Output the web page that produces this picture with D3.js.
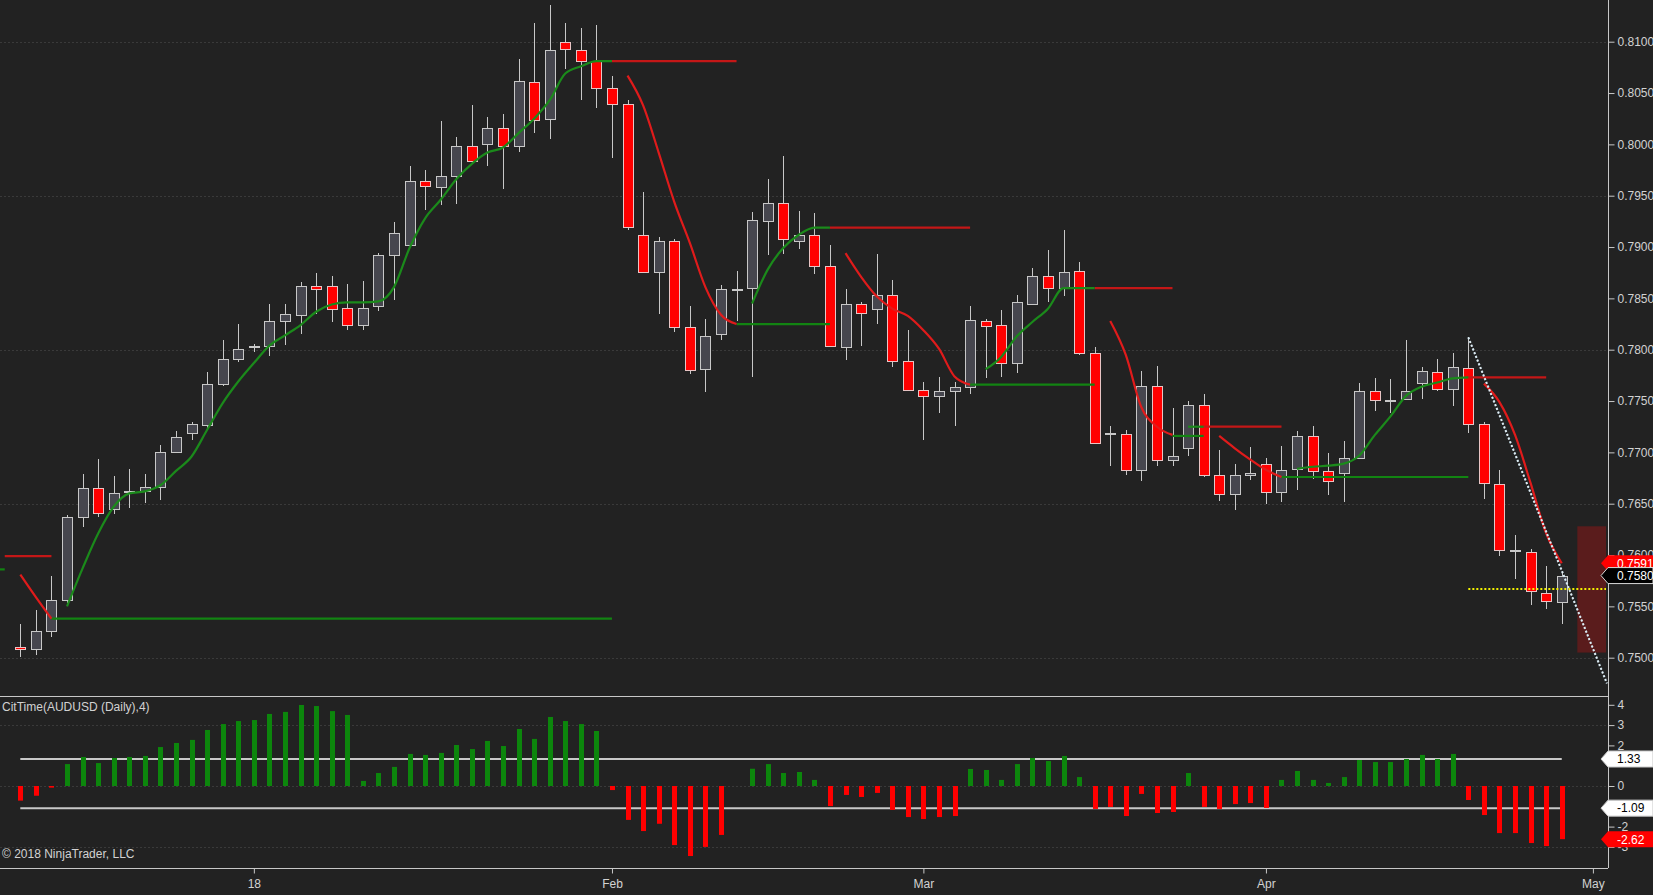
<!DOCTYPE html>
<html><head><meta charset="utf-8">
<script src="https://cdn.jsdelivr.net/npm/d3@7/dist/d3.min.js"></script>
<style>html,body{margin:0;padding:0;background:#222222;overflow:hidden}svg{display:block}</style>
</head><body>
<script>
// ---------------- DATA ----------------
const opens = [0.7510,0.7508,0.7526,0.7556,0.7637,0.7665,0.7645,0.7661,0.7662,0.7666,
0.7700,0.7719,0.7727,0.7767,0.7791,0.7803,0.7804,0.7828,0.7834,0.7862,
0.7862,0.7841,0.7824,0.7843,0.7892,0.7902,0.7964,0.7958,0.7969,0.7998,
0.8000,0.8016,0.7998,0.8061,0.8025,0.8100,0.8092,0.8081,0.8055,0.8039,
0.7912,0.7876,0.7906,0.7822,0.7781,0.7815,0.7858,0.7860,0.7925,0.7943,
0.7906,0.7912,0.7882,0.7803,0.7845,0.7840,0.7853,0.7789,0.7761,0.7755,
0.7760,0.7764,0.7828,0.7824,0.7787,0.7845,0.7872,0.7860,0.7877,0.7797,
0.7718,0.7718,0.7683,0.7765,0.7693,0.7704,0.7746,0.7678,0.7659,0.7678,
0.7689,0.7661,0.7684,0.7716,0.7682,0.7680,0.7695,0.7760,0.7750,0.7752,
0.7768,0.7778,0.7762,0.7782,0.7728,0.7669,0.7604,0.7603,0.7563,0.7554];
const highs = [0.7533,0.7546,0.7580,0.7639,0.7679,0.7694,0.7677,0.7684,0.7679,0.7707,
0.7721,0.7730,0.7778,0.7809,0.7825,0.7806,0.7845,0.7845,0.7866,0.7875,
0.7872,0.7864,0.7867,0.7894,0.7924,0.7979,0.7975,0.8023,0.8007,0.8038,
0.8027,0.8030,0.8083,0.8118,0.8136,0.8118,0.8113,0.8116,0.8067,0.8043,
0.7954,0.7910,0.7908,0.7843,0.7830,0.7863,0.7877,0.7934,0.7966,0.7989,
0.7935,0.7933,0.7902,0.7859,0.7846,0.7893,0.7868,0.7819,0.7769,0.7773,
0.7769,0.7843,0.7830,0.7839,0.7853,0.7880,0.7897,0.7917,0.7885,0.7803,
0.7726,0.7722,0.7779,0.7784,0.7743,0.7750,0.7757,0.7702,0.7689,0.7705,
0.7695,0.7706,0.7721,0.7726,0.7699,0.7711,0.7768,0.7772,0.7771,0.7809,
0.7783,0.7791,0.7797,0.7812,0.7730,0.7683,0.7620,0.7606,0.7589,0.7584];
const lows = [0.7501,0.7503,0.7520,0.7553,0.7627,0.7637,0.7640,0.7646,0.7651,0.7654,
0.7699,0.7712,0.7723,0.7765,0.7788,0.7798,0.7794,0.7805,0.7815,0.7835,
0.7827,0.7819,0.7819,0.7838,0.7848,0.7901,0.7936,0.7941,0.7942,0.7982,
0.7979,0.7957,0.7993,0.8011,0.8005,0.8073,0.8043,0.8035,0.7987,0.7917,
0.7875,0.7835,0.7817,0.7776,0.7759,0.7809,0.7828,0.7773,0.7892,0.7893,
0.7898,0.7874,0.7803,0.7790,0.7804,0.7825,0.7783,0.7760,0.7712,0.7738,
0.7726,0.7757,0.7772,0.7773,0.7777,0.7844,0.7846,0.7852,0.7795,0.7708,
0.7687,0.7678,0.7672,0.7687,0.7687,0.7696,0.7676,0.7653,0.7644,0.7673,
0.7650,0.7652,0.7663,0.7674,0.7658,0.7652,0.7694,0.7740,0.7738,0.7751,
0.7752,0.7760,0.7745,0.7719,0.7655,0.7599,0.7577,0.7551,0.7547,0.7533];
const closes = [0.7508,0.7526,0.7556,0.7637,0.7665,0.7641,0.7660,0.7662,0.7666,0.7700,
0.7715,0.7728,0.7767,0.7791,0.7801,0.7804,0.7828,0.7835,0.7862,0.7859,
0.7840,0.7824,0.7841,0.7892,0.7914,0.7964,0.7959,0.7969,0.7998,0.7984,
0.8016,0.7998,0.8062,0.8024,0.8092,0.8093,0.8081,0.8055,0.8039,0.7920,
0.7876,0.7906,0.7822,0.7780,0.7813,0.7859,0.7859,0.7926,0.7943,0.7908,
0.7912,0.7882,0.7804,0.7845,0.7836,0.7853,0.7789,0.7761,0.7755,0.7760,
0.7764,0.7829,0.7823,0.7787,0.7846,0.7872,0.7860,0.7876,0.7797,0.7709,
0.7719,0.7683,0.7765,0.7693,0.7696,0.7746,0.7678,0.7659,0.7678,0.7680,
0.7661,0.7683,0.7716,0.7682,0.7672,0.7695,0.7760,0.7751,0.7751,0.7760,
0.7779,0.7762,0.7783,0.7728,0.7670,0.7605,0.7605,0.7565,0.7555,0.7580];

// trend overlay value per bar and its direction (g = up / green, r = down / red)
const trendValues = [0.7581,0.7559,0.7538,0.7550,0.7587,0.7621,0.7647,0.7660,0.7662,0.7668,
0.7682,0.7696,0.7722,0.7748,0.7769,0.7787,0.7804,0.7814,0.7824,0.7837,
0.7844,0.7846,0.7846,0.7847,0.7861,0.7899,0.7928,0.7946,0.7966,0.7981,
0.7992,0.7997,0.8011,0.8025,0.8043,0.8069,0.8076,0.8081,0.8081,0.8067,
0.8038,0.7992,0.7944,0.7904,0.7861,0.7834,0.7825,0.7845,0.7878,0.7899,
0.7912,0.7919,0.7919,0.7894,0.7871,0.7852,0.7840,0.7833,0.7819,0.7801,
0.7774,0.7766,0.7781,0.7793,0.7813,0.7827,0.7840,0.7860,0.7860,0.7860,
0.7828,0.7795,0.7744,0.7725,0.7717,0.7725,0.7725,0.7716,0.7704,0.7693,
0.7683,0.7676,0.7684,0.7686,0.7687,0.7689,0.7697,0.7717,0.7735,0.7755,
0.7764,0.7768,0.7772,0.7773,0.7767,0.7749,0.7717,0.7670,0.7621,0.7592];
const trendDir = "rrrggggggggggggggggggggggggggggggggggggrrrrrrrrggggggrrrrrrrrrggggggggrrrrrggrrrrrggggggggggggrrrrrr";

// horizontal levels: [fromBar, toBar, price, colour key]
const levelFrom  = [-1.4, -1, 2, 38, 46, 52, 61, 69, 74, 76, 81, 93];
const levelTo    = [-1, 2, 38, 46, 52, 61, 69, 74, 76, 81, 93, 98];
const levelPrice = [0.7586,0.7599,0.7538,0.8081,0.7825,0.7919,0.7766,0.7860,0.7716,0.7725,0.7676,0.7773];
const levelDir   = ["g","r","g","r","g","r","g","r","g","r","g","r"];

// dotted trend line (bar, price) and yellow dotted level
const trendLineBars = [93, 101.9];
const trendLinePrices = [0.7812, 0.7475];
const yellowLevel = {from: 93, price: 0.7567};
const projectionBox = {from: 100, top: 0.7628, bottom: 0.7505};

// CitTime indicator
const citTime = [-0.72,-0.48,-0.08,1.08,1.43,1.13,1.38,1.43,1.48,1.92,
2.12,2.27,2.76,3.05,3.2,3.25,3.55,3.65,3.99,3.94,
3.69,3.5,0.25,0.64,0.94,1.58,1.53,1.63,2.02,1.82,
2.22,1.97,2.81,2.32,3.4,3.2,3.05,2.71,-0.2,-1.67,
-2.22,-1.86,-2.91,-3.45,-3.0,-2.41,0,0.85,1.08,0.64,
0.69,0.3,-0.99,-0.44,-0.54,-0.34,-1.18,-1.53,-1.63,-1.53,
-1.48,0.84,0.79,0.3,1.08,1.38,1.23,1.48,0.44,-1.13,
-1.03,-1.48,-0.39,-1.33,-1.28,0.64,-1.03,-1.13,-0.89,-0.84,
-1.08,0.3,0.74,0.3,0.15,0.44,1.28,1.18,1.18,1.33,
1.53,1.33,1.58,-0.69,-1.43,-2.32,-2.32,-2.81,-2.96,-2.62];
const citUpper = 1.33, citLower = -1.09;

// ticks
const priceTicks = [0.7500,0.7550,0.7600,0.7650,0.7700,0.7750,0.7800,0.7850,0.7900,0.7950,0.8000,0.8050,0.8100];
const priceGrid = [0.7500,0.7650,0.7800,0.7950,0.8100];
const citTicks = [-3,-2,-1,0,1,2,3,4];
const citTickLabels = ["-3","-2","","0","","2","3","4"];
const citGrid = [-3,0,3];
const xTickBars = [15, 38, 58, 80, 101];
const xTickLabels = ["18","Feb","Mar","Apr","May"];
const lastCloseLabel = "0.7580'1";
const trendLabel = "0.7591'7";

// ---------------- DRAW ----------------
const W = 1653, H = 895, axisX = 1608;
const mainBottom = 696, indBottom = 868;
const font = "'Liberation Sans', Arial, sans-serif";
const textCol = "#d2d2d2";
const upFill = "#46464e", upStroke = "#c8c8c8", dnFill = "#ff0000", dnStroke = "#e8c4c4";
const green = "#1b8a1b", red = "#e01b1b", redLevel = "#c41717", greenLevel = "#128412";

const x = d3.scaleLinear().domain([-1.304, 101.97]).range([0, axisX]);
const y = d3.scaleLinear().domain([0.75, 0.81]).range([657.7, 41.7]);
const yi = d3.scaleLinear().domain([-3, 4]).range([846.9, 704.8]);

const svg = d3.select("body").append("svg").attr("width", W).attr("height", H)
  .style("font-family", font);
svg.append("rect").attr("width", W).attr("height", H).attr("fill", "#222222");

const defs = svg.append("defs");
defs.append("clipPath").attr("id","mainClip").append("rect").attr("x",0).attr("y",0).attr("width",axisX).attr("height",mainBottom);
defs.append("clipPath").attr("id","indClip").append("rect").attr("x",0).attr("y",mainBottom).attr("width",axisX).attr("height",indBottom-mainBottom);

// grids
const grid = svg.append("g").attr("stroke","#3a3a3a").attr("stroke-dasharray","2,2").attr("stroke-width",1);
priceGrid.forEach(p => grid.append("line").attr("x1",0).attr("x2",axisX)
  .attr("y1",Math.round(y(p))+0.5).attr("y2",Math.round(y(p))+0.5));
citGrid.forEach(v => grid.append("line").attr("x1",0).attr("x2",axisX)
  .attr("y1",Math.round(yi(v))+0.5).attr("y2",Math.round(yi(v))+0.5));

const main = svg.append("g").attr("clip-path","url(#mainClip)");

// projection box
main.append("rect").attr("x", x(projectionBox.from)).attr("width", axisX - 2 - x(projectionBox.from))
  .attr("y", y(projectionBox.top)).attr("height", y(projectionBox.bottom) - y(projectionBox.top))
  .attr("fill", "#5a1c1c");

// candles
const bars = d3.range(opens.length);
const cg = main.append("g");
bars.forEach(i => {
  const n = Math.round(x(i));
  const up = closes[i] >= opens[i];
  cg.append("line").attr("x1", n+0.5).attr("x2", n+0.5)
    .attr("y1", y(highs[i])).attr("y2", y(lows[i]))
    .attr("stroke", upStroke).attr("stroke-width",1).attr("shape-rendering","crispEdges");
  const top = Math.round(y(Math.max(opens[i], closes[i])));
  const bot = Math.round(y(Math.min(opens[i], closes[i])));
  cg.append("rect").attr("x", n-4.5).attr("width", 10)
    .attr("y", top+0.5).attr("height", Math.max(1, bot-top))
    .attr("fill", up ? upFill : dnFill).attr("stroke", up ? upStroke : dnStroke)
    .attr("stroke-width",1).attr("shape-rendering","crispEdges");
});

// levels
levelFrom.forEach((f, k) => {
  main.append("line").attr("x1", x(f)).attr("x2", x(levelTo[k]))
    .attr("y1", y(levelPrice[k])).attr("y2", y(levelPrice[k]))
    .attr("stroke", levelDir[k]==="g" ? greenLevel : redLevel).attr("stroke-width", 2.2);
});

// trend segments
const segs = [];
bars.forEach(i => {
  const d = trendDir[i];
  if (i > 0 && trendDir[i-1] === d) segs[segs.length-1].pts.push(i);
  else segs.push({dir: d, pts: [i]});
});
const tline = d3.line().x(i => x(i)).y(i => y(trendValues[i])).curve(d3.curveMonotoneX);
segs.forEach(s => {
  main.append("path").attr("d", tline(s.pts)).attr("fill","none")
    .attr("stroke", s.dir==="g" ? green : red).attr("stroke-width", 2.2)
    .attr("stroke-linejoin","round");
});

// yellow dotted level
main.append("line").attr("x1", x(yellowLevel.from)).attr("x2", axisX-2)
  .attr("y1", y(yellowLevel.price)).attr("y2", y(yellowLevel.price))
  .attr("stroke","#f2f200").attr("stroke-width",2).attr("stroke-dasharray","2,2");

// dotted trend line
main.append("line").attr("x1", x(trendLineBars[0])).attr("x2", x(trendLineBars[1]))
  .attr("y1", y(trendLinePrices[0])).attr("y2", y(trendLinePrices[1]))
  .attr("stroke","#b7d3e0").attr("stroke-width",2.2).attr("stroke-dasharray","2,2");
main.append("line").attr("x1", x(trendLineBars[0])).attr("x2", x(trendLineBars[1]))
  .attr("y1", y(trendLinePrices[0])).attr("y2", y(trendLinePrices[1]))
  .attr("stroke","#e8eef2").attr("stroke-width",1.2).attr("stroke-dasharray","2,2");

// indicator
const ind = svg.append("g").attr("clip-path","url(#indClip)");
ind.append("line").attr("x1", x(0)).attr("x2", x(citTime.length-1)).attr("y1", yi(citUpper)).attr("y2", yi(citUpper))
  .attr("stroke","#c8c8c8").attr("stroke-width",2);
ind.append("line").attr("x1", x(0)).attr("x2", x(citTime.length-1)).attr("y1", yi(citLower)).attr("y2", yi(citLower))
  .attr("stroke","#c8c8c8").attr("stroke-width",2);
bars.forEach(i => {
  const v = citTime[i];
  if (v === 0) return;
  const y0 = yi(0), y1 = yi(v);
  ind.append("rect").attr("x", Math.round(x(i)) - 2).attr("width", 5)
    .attr("y", Math.min(y0,y1)).attr("height", Math.abs(y1-y0))
    .attr("fill", v > 0 ? "#0c860c" : "#ff0000");
});

// panel borders
svg.append("line").attr("x1",0).attr("x2",axisX).attr("y1",mainBottom+0.5).attr("y2",mainBottom+0.5).attr("stroke","#c8c8c8");
svg.append("line").attr("x1",0).attr("x2",axisX).attr("y1",indBottom+0.5).attr("y2",indBottom+0.5).attr("stroke","#c8c8c8");
svg.append("line").attr("x1",axisX+0.5).attr("x2",axisX+0.5).attr("y1",0).attr("y2",indBottom).attr("stroke","#c8c8c8");

// axes
function styleAxis(g){
  g.select(".domain").remove();
  g.selectAll(".tick line").attr("stroke","#c8c8c8");
  g.selectAll(".tick text").attr("fill",textCol).style("font-size","12px").style("font-family",font);
}
svg.append("g").attr("transform",`translate(${axisX+0.5},0)`)
  .call(d3.axisRight(y).tickValues(priceTicks).tickSize(6).tickPadding(3).tickFormat(d => d.toFixed(4)+"'0"))
  .call(styleAxis);
svg.append("g").attr("transform",`translate(${axisX+0.5},0)`)
  .call(d3.axisRight(yi).tickValues(citTicks).tickSize(6).tickPadding(3).tickFormat((d,k) => citTickLabels[k]))
  .call(styleAxis);
svg.append("g").attr("transform",`translate(0,${indBottom+0.5})`)
  .call(d3.axisBottom(x).tickValues(xTickBars).tickSize(5).tickPadding(6).tickFormat((d,k)=>xTickLabels[k]))
  .call(styleAxis);

// tags
function tag(yc, text, fill, tcol, stroke){
  const h = 8;
  svg.append("path").attr("d", `M${axisX-7},${yc} L${axisX},${yc-h} L${W},${yc-h} L${W},${yc+h} L${axisX},${yc+h} Z`)
    .attr("fill", fill).attr("stroke", stroke || "none").attr("stroke-width",1);
  svg.append("text").attr("x", axisX+9).attr("y", yc).attr("dy","0.36em").attr("fill", tcol)
    .style("font-size","12px").text(text);
}
tag(y(trendValues[trendValues.length-1]), trendLabel, "#ff0000", "#ffffff");
tag(y(closes[closes.length-1]), lastCloseLabel, "#000000", "#ffffff", "#d8d8d8");
tag(yi(citUpper), citUpper.toFixed(2), "#ffffff", "#000000", "#c8c8c8");
tag(yi(citLower), citLower.toFixed(2), "#ffffff", "#000000", "#c8c8c8");
tag(yi(citTime[citTime.length-1]), citTime[citTime.length-1].toFixed(2), "#ff0000", "#ffffff");

// texts
svg.append("text").attr("x",2).attr("y",711).attr("fill",textCol).style("font-size","12px").text("CitTime(AUDUSD (Daily),4)");
svg.append("text").attr("x",2).attr("y",858).attr("fill",textCol).style("font-size","12px").text("© 2018 NinjaTrader, LLC");
</script>
</body></html>
